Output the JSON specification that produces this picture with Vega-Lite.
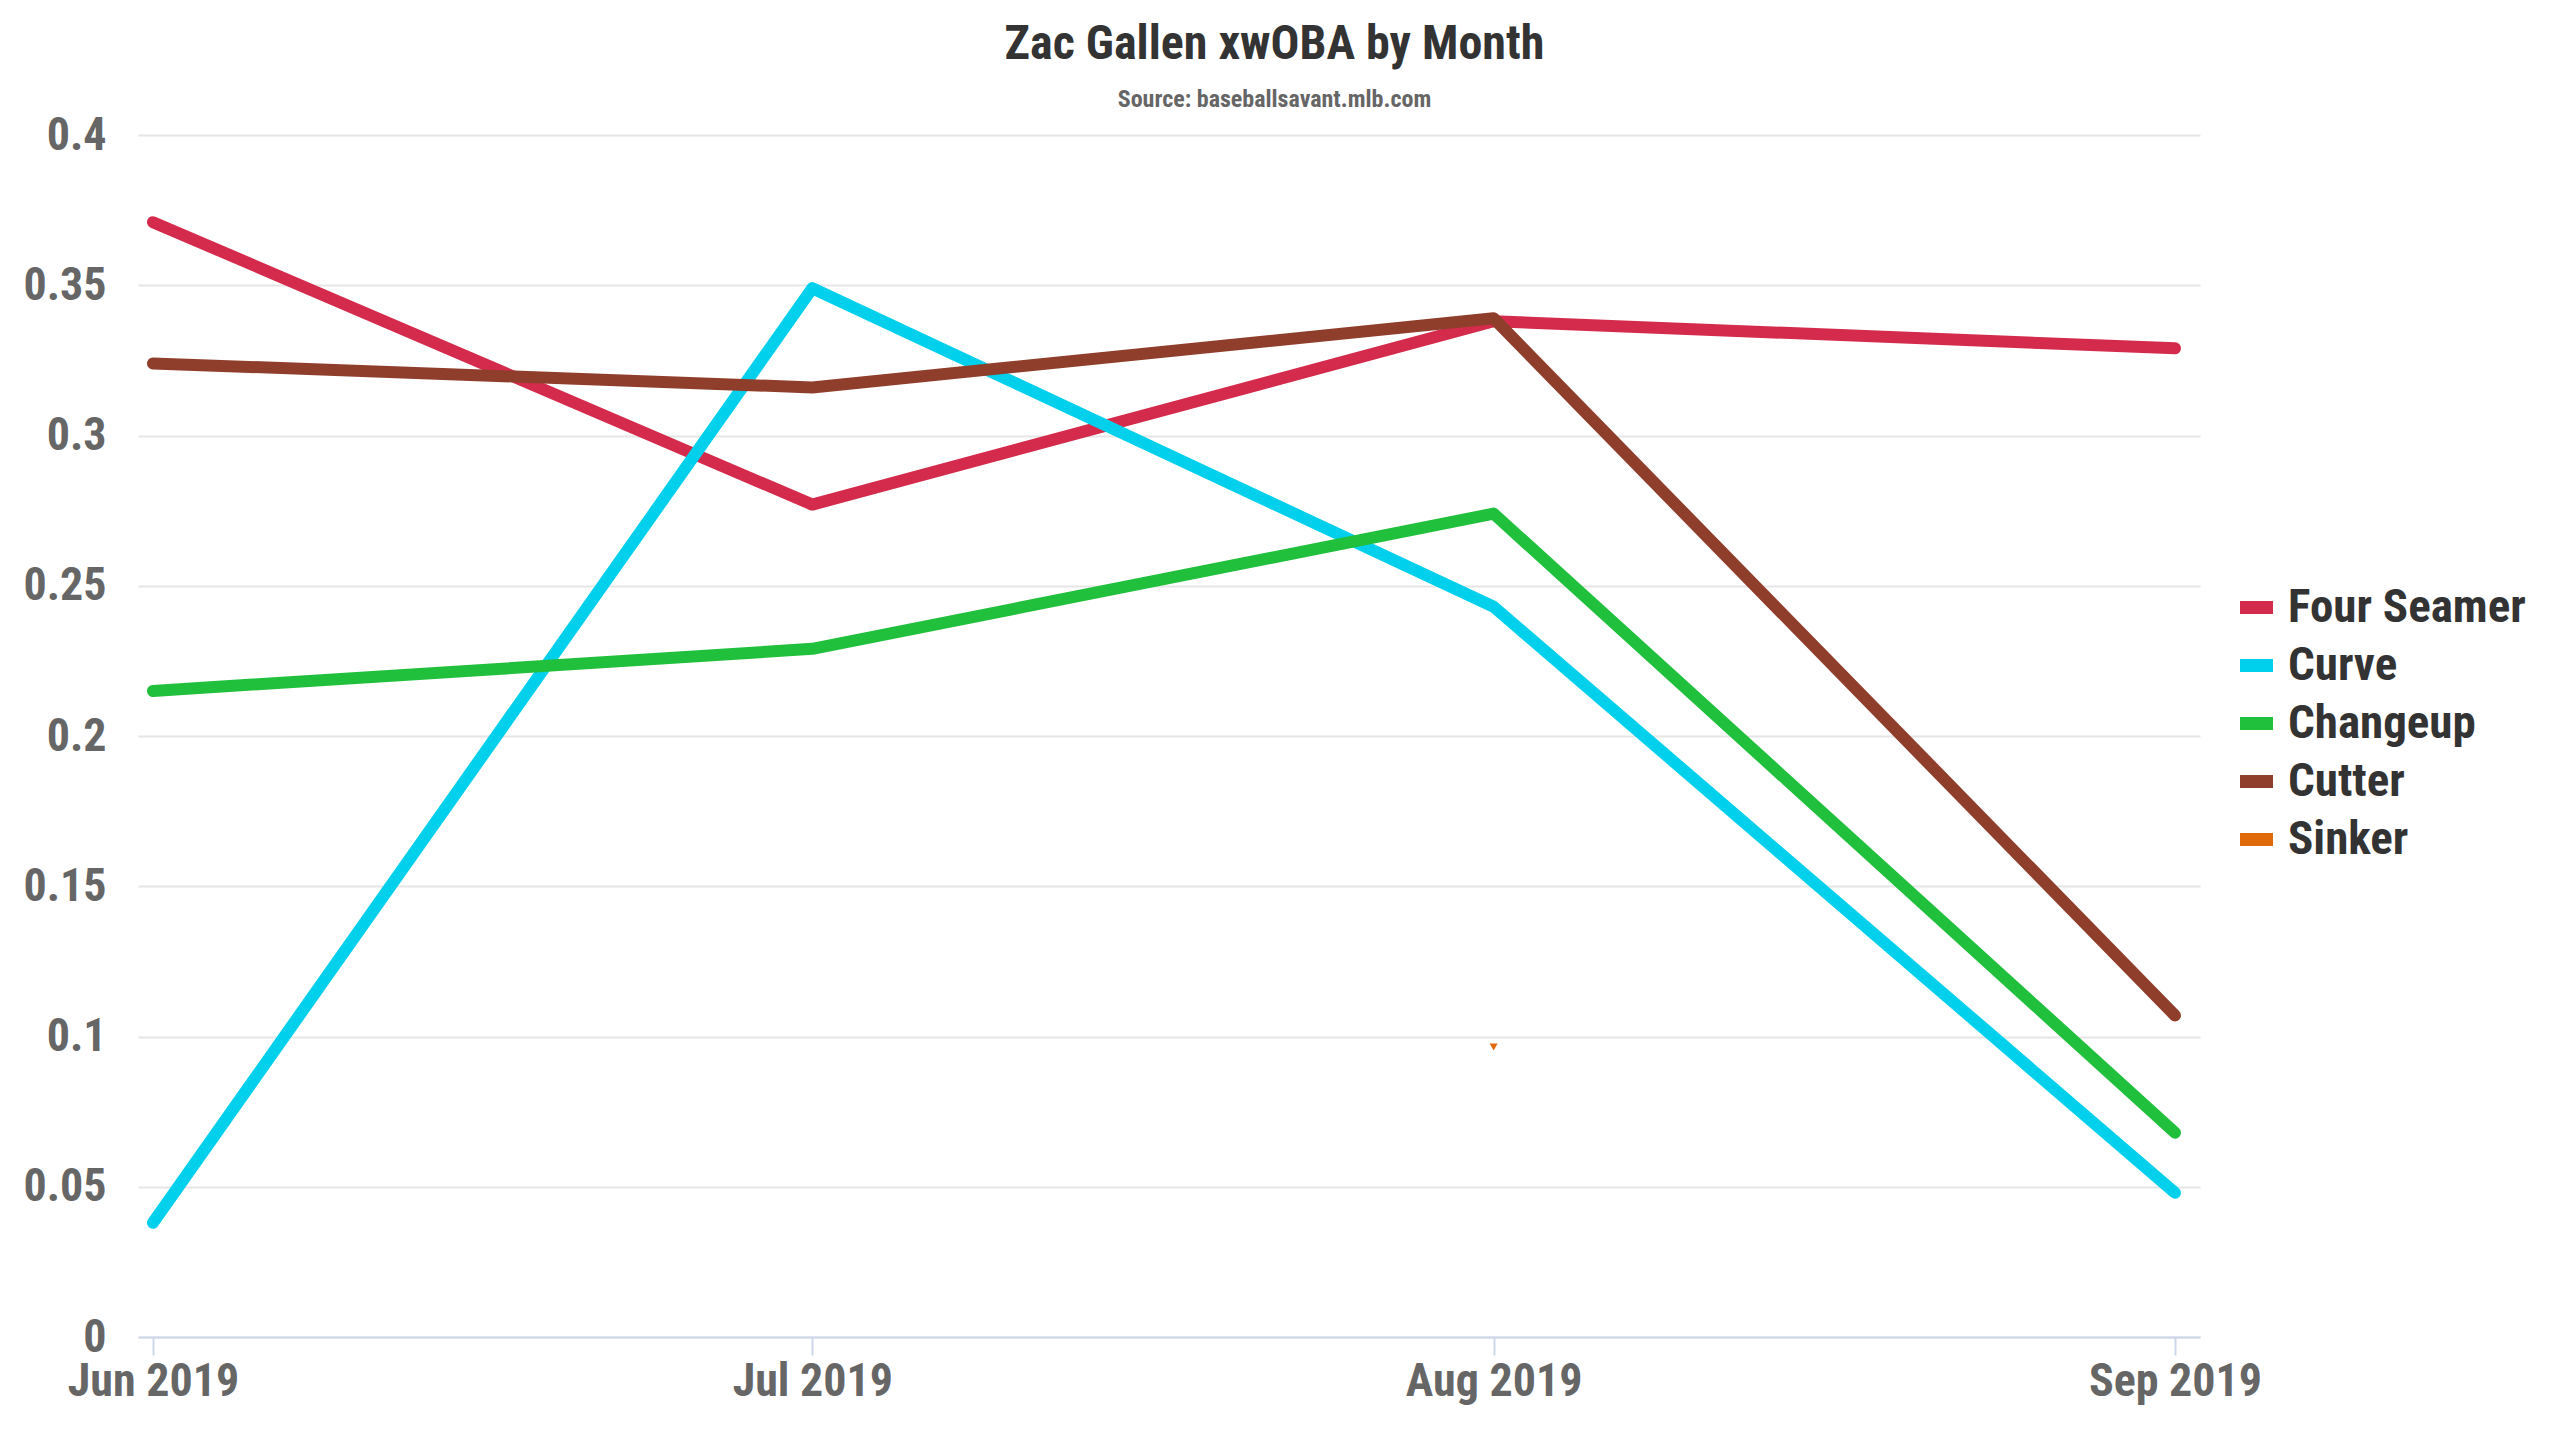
{
  "$schema": "https://vega.github.io/schema/vega-lite/v6.json",
  "width": 2062,
  "height": 1202,
  "autosize": {"type": "none"},
  "padding": {"left": 138, "top": 135, "right": 360, "bottom": 103},
  "background": "white",
  "config": {
    "view": {"stroke": null},
    "font": "Roboto Condensed, Liberation Sans Narrow, DejaVu Sans Condensed, Roboto, sans-serif"
  },
  "title": {
    "text": "Zac Gallen xwOBA by Month",
    "subtitle": "Source: baseballsavant.mlb.com",
    "anchor": "middle",
    "frame": "bounds",
    "fontSize": 48,
    "fontWeight": "bold",
    "color": "#333333",
    "subtitleFontSize": 24,
    "subtitleFontWeight": "bold",
    "subtitleColor": "#666666",
    "subtitlePadding": 19,
    "offset": 0
  },
  "datasets": {
    "xwoba": [
      {"month": "2019-06-01", "pitch": "Four Seamer", "xwoba": 0.371},
      {"month": "2019-07-01", "pitch": "Four Seamer", "xwoba": 0.277},
      {"month": "2019-08-01", "pitch": "Four Seamer", "xwoba": 0.338},
      {"month": "2019-09-01", "pitch": "Four Seamer", "xwoba": 0.329},
      {"month": "2019-06-01", "pitch": "Curve", "xwoba": 0.038},
      {"month": "2019-07-01", "pitch": "Curve", "xwoba": 0.349},
      {"month": "2019-08-01", "pitch": "Curve", "xwoba": 0.243},
      {"month": "2019-09-01", "pitch": "Curve", "xwoba": 0.048},
      {"month": "2019-06-01", "pitch": "Changeup", "xwoba": 0.215},
      {"month": "2019-07-01", "pitch": "Changeup", "xwoba": 0.229},
      {"month": "2019-08-01", "pitch": "Changeup", "xwoba": 0.274},
      {"month": "2019-09-01", "pitch": "Changeup", "xwoba": 0.068},
      {"month": "2019-06-01", "pitch": "Cutter", "xwoba": 0.324},
      {"month": "2019-07-01", "pitch": "Cutter", "xwoba": 0.316},
      {"month": "2019-08-01", "pitch": "Cutter", "xwoba": 0.339},
      {"month": "2019-09-01", "pitch": "Cutter", "xwoba": 0.107},
      {"month": "2019-08-01", "pitch": "Sinker", "xwoba": 0.0965}
    ]
  },
  "data": {"name": "xwoba"},
  "encoding": {
    "x": {
      "field": "month",
      "type": "temporal",
      "title": null,
      "scale": {
        "type": "utc",
        "domain": [
          {"year": 2019, "month": 5, "date": 31, "hours": 7, "minutes": 40, "utc": true},
          {"year": 2019, "month": 9, "date": 2, "hours": 3, "minutes": 20, "utc": true}
        ]
      },
      "axis": {
        "values": [
          {"year": 2019, "month": 6, "date": 1, "utc": true},
          {"year": 2019, "month": 7, "date": 1, "utc": true},
          {"year": 2019, "month": 8, "date": 1, "utc": true},
          {"year": 2019, "month": 9, "date": 1, "utc": true}
        ],
        "labelExpr": "utcFormat(datum.value, '%b %Y')",
        "grid": false,
        "domainColor": "#ccd6eb",
        "domainWidth": 2,
        "tickColor": "#ccd6eb",
        "tickWidth": 2,
        "tickSize": 18,
        "labelFontSize": 46,
        "labelFontWeight": "bold",
        "labelColor": "#666666",
        "labelPadding": 4,
        "labelFlush": false,
        "labelOverlap": false
      }
    },
    "y": {
      "field": "xwoba",
      "type": "quantitative",
      "title": null,
      "scale": {"domain": [0, 0.4], "nice": false},
      "axis": {
        "values": [0, 0.05, 0.1, 0.15, 0.2, 0.25, 0.3, 0.35, 0.4],
        "format": "~g",
        "domain": false,
        "ticks": false,
        "gridColor": "#e6e6e6",
        "gridWidth": 2,
        "labelFontSize": 46,
        "labelFontWeight": "bold",
        "labelColor": "#666666",
        "labelPadding": 32
      }
    },
    "color": {
      "field": "pitch",
      "type": "nominal",
      "scale": {
        "domain": ["Four Seamer", "Curve", "Changeup", "Cutter", "Sinker"],
        "range": ["#d42b4c", "#00d0ec", "#20bf3c", "#903e2c", "#e0690a"]
      },
      "legend": {
        "title": null,
        "orient": "none",
        "legendX": 2095,
        "legendY": 449,
        "symbolType": "stroke",
        "symbolStrokeWidth": 13,
        "symbolSize": 1089,
        "labelFontSize": 47,
        "labelFontWeight": "bold",
        "labelColor": "#333333",
        "labelOffset": 8,
        "rowPadding": 5,
        "labelLimit": 400
      }
    }
  },
  "layer": [
    {
      "transform": [{"filter": "datum.pitch !== 'Sinker'"}],
      "mark": {"type": "line", "strokeWidth": 12, "strokeCap": "round", "strokeJoin": "round"}
    },
    {
      "transform": [{"filter": "datum.pitch === 'Sinker'"}],
      "mark": {"type": "point", "shape": "triangle-down", "filled": true, "opacity": 1, "size": 64}
    }
  ]
}
